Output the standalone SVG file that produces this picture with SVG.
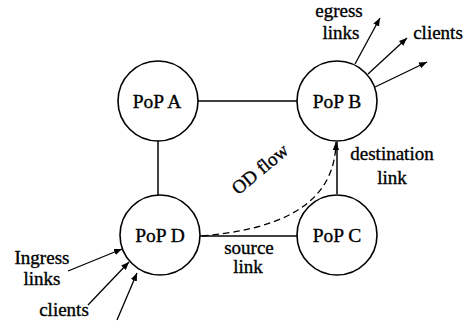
<svg xmlns="http://www.w3.org/2000/svg" width="476" height="321" viewBox="0 0 476 321">
  <defs>
    <marker id="arrow" viewBox="0 0 10 10" refX="10" refY="5" markerWidth="8" markerHeight="8" markerUnits="userSpaceOnUse" orient="auto">
      <path d="M0,1 L10,5 L0,9 Z" fill="#000"/>
    </marker>
    <style>
      .node circle { fill: #fff; stroke: #000; stroke-width: 1.6; }
      text { fill: #000; stroke: #000; stroke-width: 0.35; text-anchor: middle; }
      .node text { font-size: 19.5px; }
      .edge { stroke: #000; stroke-width: 1.5; fill: none; }
      .arrow { stroke: #000; stroke-width: 1.3; fill: none; marker-end: url(#arrow); }
      .dashed { stroke-dasharray: 6.5 4; }
      .label { font-size: 19px; }
    </style>
  </defs>

  <!-- links between PoPs, the OD flow, and the ingress/egress arrows -->
  <g id="connectors">
    <line class="edge" x1="198" y1="101" x2="297" y2="101"/>
    <line class="edge" x1="158" y1="141" x2="158" y2="195"/>
    <line class="edge" x1="200" y1="236" x2="297" y2="236"/>
    <line class="edge" x1="337" y1="194" x2="337" y2="142"/>
    <path class="arrow dashed" d="M202,236 C270,230 335,210 336,142"/>
    <line class="arrow" x1="68" y1="271" x2="122" y2="249"/>
    <line class="arrow" x1="88" y1="305" x2="129" y2="262"/>
    <line class="arrow" x1="117" y1="320" x2="137" y2="273"/>
    <line class="arrow" x1="355" y1="64" x2="380" y2="18"/>
    <line class="arrow" x1="368" y1="74" x2="407" y2="38"/>
    <line class="arrow" x1="375" y1="87" x2="427" y2="62"/>
  </g>

  <g font-family="'Liberation Serif', 'DejaVu Serif', serif">
    <g id="pop-a" class="node">
      <circle cx="158" cy="101" r="40"/>
      <text x="157" y="108">PoP A</text>
    </g>
    <g id="pop-b" class="node">
      <circle cx="337" cy="101" r="40"/>
      <text x="337" y="108">PoP B</text>
    </g>
    <g id="pop-c" class="node">
      <circle cx="337" cy="235" r="40"/>
      <text x="337" y="242">PoP C</text>
    </g>
    <g id="pop-d" class="node">
      <circle cx="160" cy="235" r="40"/>
      <text x="160" y="242">PoP D</text>
    </g>

    <g id="labels">
      <text class="label" x="264" y="174" transform="rotate(-40 264 174)">OD flow</text>
      <text class="label" x="392" y="160">destination</text>
      <text class="label" x="392" y="184">link</text>
      <text class="label" x="249" y="254">source</text>
      <text class="label" x="248" y="273">link</text>
      <text class="label" x="42" y="264">Ingress</text>
      <text class="label" x="42" y="285">links</text>
      <text class="label" x="64" y="316">clients</text>
      <text class="label" x="339" y="17">egress</text>
      <text class="label" x="341" y="39">links</text>
      <text class="label" x="438" y="39">clients</text>
    </g>
  </g>
</svg>
